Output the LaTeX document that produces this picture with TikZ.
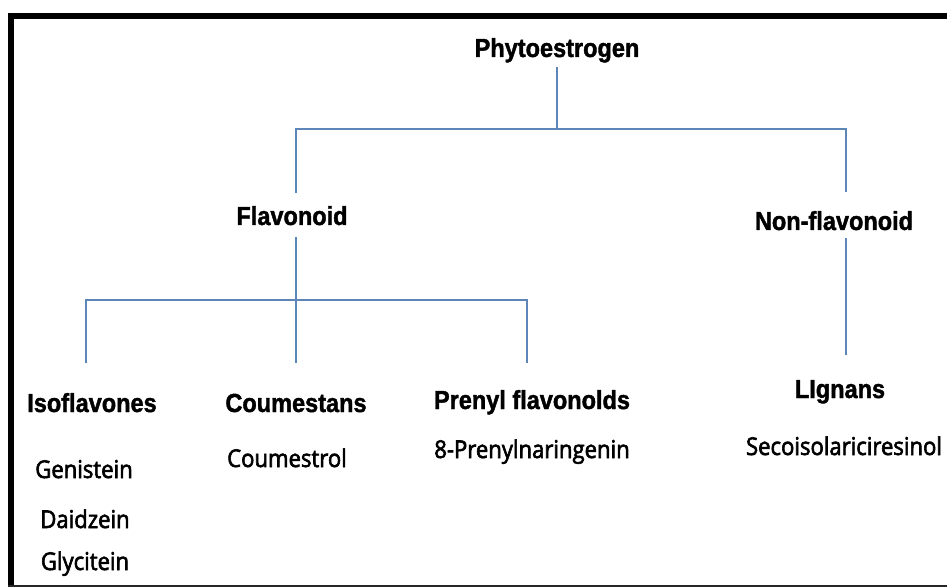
\documentclass[tikz,border=0pt]{standalone}
\usepackage{fontspec}
\newfontfamily\headfont{Liberation Sans Bold}[FakeStretch=0.9,FakeBold=1.5]
\newfontfamily\itemfont{Open Sans}[FakeStretch=0.9,FakeBold=2.5]
\definecolor{linkblue}{RGB}{92,134,184}
\begin{document}
\begin{tikzpicture}[x=0.75pt,y=-0.75pt,
  head/.style={inner sep=0pt,anchor=base,font=\headfont\fontsize{19.6pt}{23pt}\selectfont},
  item/.style={inner sep=0pt,anchor=base,font=\itemfont\fontsize{18.4pt}{22pt}\selectfont},
  link/.style={draw=linkblue,line width=1.2pt}]
\useasboundingbox (0,0) rectangle (947,588);
% frame
\fill[black] (8,13) rectangle (947,19);
\fill[black] (8,13) rectangle (14,587);
\fill[black!85] (8,585) rectangle (947,587);

% category headings
\node[head] (phyto)   at (557,57)  {Phytoestrogen};
\node[head] (flav)    at (292,225) {Flavonoid};
\node[head] (nonflav) at (834,230) {Non-flavonoid};
\node[head] (iso)     at (92,412)  {Isoflavones};
\node[head] (coum)    at (296,412) {Coumestans};
\node[head] (prenyl)  at (532,409) {Prenyl flavonolds};
\node[head] (lign)    at (840,398) {LIgnans};

% compounds
\node[item] (gen)     at (84,478)  {Genistein};
\node[item] (daid)    at (85,528)  {Daidzein};
\node[item] (glyc)    at (85,570)  {Glycitein};
\node[item] (coumol)  at (287,467) {Coumestrol};
\node[item] (prenyln) at (532,458) {8-Prenylnaringenin};
\node[item] (seco)    at (844,455) {Secoisolariciresinol};

% bus lines
\coordinate (bus1) at (0,129);
\coordinate (bus2) at (0,300);

% connectors
\draw[link] ([yshift=-7.5pt]phyto.base) -- (phyto.base |- bus1);
\draw[link] ([xshift=3pt,yshift=24pt]flav.base) |- (phyto.base |- bus1)
            -| ([xshift=9pt,yshift=28.5pt]nonflav.base);
\draw[link] ([xshift=3pt,yshift=-9pt]flav.base) -- ([yshift=36.75pt]coum.base);
\draw[link] ([xshift=-4.5pt,yshift=36.75pt]iso.base) |- (coum.base |- bus2)
            -| ([xshift=-3.75pt,yshift=34.5pt]prenyl.base);
\draw[link] ([xshift=9pt,yshift=-6pt]nonflav.base) -- ([xshift=4.5pt,yshift=32.25pt]lign.base);
\end{tikzpicture}
\end{document}
